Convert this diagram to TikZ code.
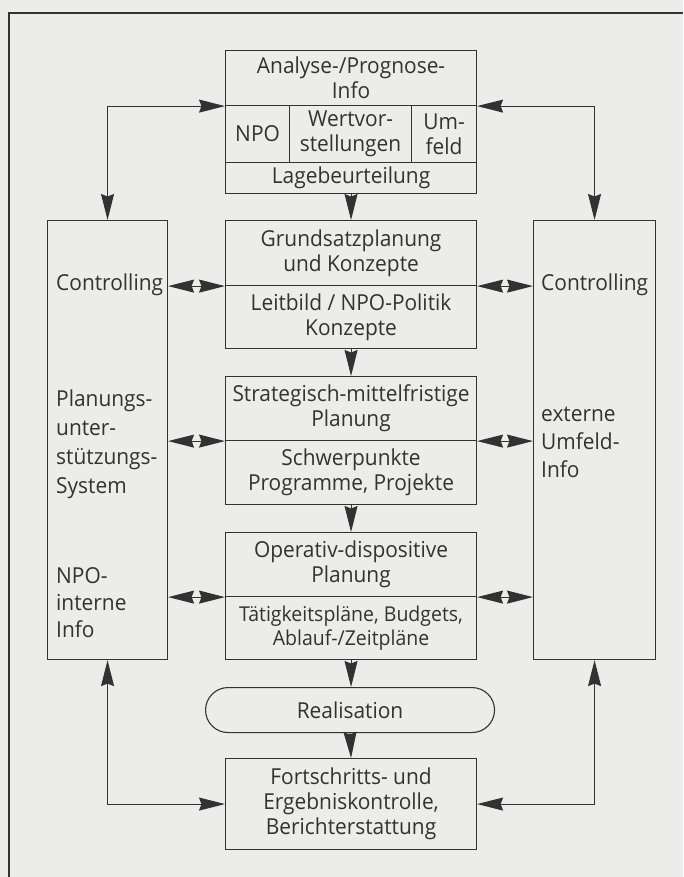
\documentclass[tikz,border=0pt]{standalone}
\usepackage{fontspec}
\setmainfont{Open Sans}[FakeStretch=0.95]
\usetikzlibrary{arrows.meta}
\definecolor{paper}{RGB}{236,236,234}
\definecolor{ink}{RGB}{50,50,50}
\begin{document}
\begin{tikzpicture}[x=1pt,y=-1pt,
  box/.style={draw=ink, line width=1.1pt, inner sep=0pt, align=center, text=ink,
    anchor=north west, font=\fontsize{22}{25}\selectfont},
  lbl/.style={inner sep=0pt, align=left, text=ink, anchor=west},
  tip/.tip={Stealth[length=26pt,width=13pt,inset=2.5pt]},
  arr/.style={draw=ink, fill=ink, line width=1.1pt, -tip},
  dbl/.style={draw=ink, line width=1.1pt, tip-tip}]
\useasboundingbox (0,0) rectangle (683,877);
\fill[paper] (0,0) rectangle (683,877);
\coordinate (fr1) at (683,13);
\coordinate (fr2) at (9,13);
\coordinate (fr3) at (9,877);
\draw[ink, line width=1.1pt] (fr1) -- (fr2) -- (fr3);
% top block
\node[box, minimum width=251pt, minimum height=55pt] (ana) at (225,50) {Analyse-/Prognose-\\Info};
\node[box, minimum width=64pt, minimum height=57pt] (npo) at (225,105) {NPO};
\node[box, minimum width=122pt, minimum height=57pt] (wert) at (289,105) {Wertvor-\\stellungen};
\node[box, minimum width=65pt, minimum height=57pt] (umf) at (411,105) {Um-\\feld};
\node[box, minimum width=251pt, minimum height=31pt] (lage) at (225,162) {Lagebeurteilung};
% middle column
\node[box, minimum width=251pt, minimum height=65pt] (grund) at (225,220) {Grundsatzplanung\\und Konzepte};
\node[box, minimum width=251pt, minimum height=63pt] (leit) at (225,285) {Leitbild / NPO-Politik\\Konzepte};
\node[box, minimum width=251pt, minimum height=64pt] (strat) at (225,376) {Strategisch-mittelfristige\\Planung};
\node[box, minimum width=251pt, minimum height=64pt] (schw) at (225,440) {Schwerpunkte\\Programme, Projekte};
\node[box, minimum width=251pt, minimum height=64pt] (oper) at (225,532) {Operativ-dispositive\\Planung};
\node[box, minimum width=251pt, minimum height=63pt, font=\fontsize{20.5}{24}\selectfont] (taet) at (225,596) {Tätigkeitspläne, Budgets,\\Ablauf-/Zeitpläne};
\node[box, minimum width=289pt, minimum height=45pt, rounded corners=22.5pt] (real) at (205,687) {Realisation};
\node[box, minimum width=251pt, minimum height=91pt] (fort) at (225,758) {Fortschritts- und\\Ergebniskontrolle,\\Berichterstattung};
% side columns
\node[box, minimum width=120pt, minimum height=439pt] (left) at (47,220) {};
\node[box, minimum width=122pt, minimum height=439pt] (right) at (533,220) {};
\node[lbl, font=\fontsize{22}{25}\selectfont] (lc) at (56,285) {Controlling};
\node[lbl, font=\fontsize{22}{29}\selectfont] (lp) at (56,444) {Planungs-\\unter-\\stützungs-\\System};
\node[lbl, font=\fontsize{22}{27}\selectfont] (ln) at (56,603) {NPO-\\interne\\Info};
\node[lbl, font=\fontsize{22}{25}\selectfont] (rc) at (541,285) {Controlling};
\node[lbl, font=\fontsize{22}{28}\selectfont] (re) at (541,442) {externe\\Umfeld-\\Info};
% vertical flow
\draw[arr] (lage.south) -- (grund.north);
\draw[arr] (leit.south) -- (strat.north);
\draw[arr] (schw.south) -- (oper.north);
\draw[arr] (taet.south) -- (oper.south |- real.north);
\draw[arr] (real.south) -- (fort.north);
% top connectors
\draw[dbl] (ana.south west) -| (left.north);
\draw[dbl] (ana.south east) -| (right.north);
% bottom connectors
\draw[dbl] (left.south) |- (fort.west);
\draw[dbl] (right.south) |- (fort.east);
% double arrows
\draw[dbl] (left.east |- grund.south) -- (grund.south west);
\draw[dbl] (grund.south east) -- (right.west |- grund.south);
\draw[dbl] (left.east |- strat.south) -- (strat.south west);
\draw[dbl] (strat.south east) -- (right.west |- strat.south);
\draw[dbl] (left.east |- oper.south) -- (oper.south west);
\draw[dbl] (oper.south east) -- (right.west |- oper.south);
\end{tikzpicture}
\end{document}
